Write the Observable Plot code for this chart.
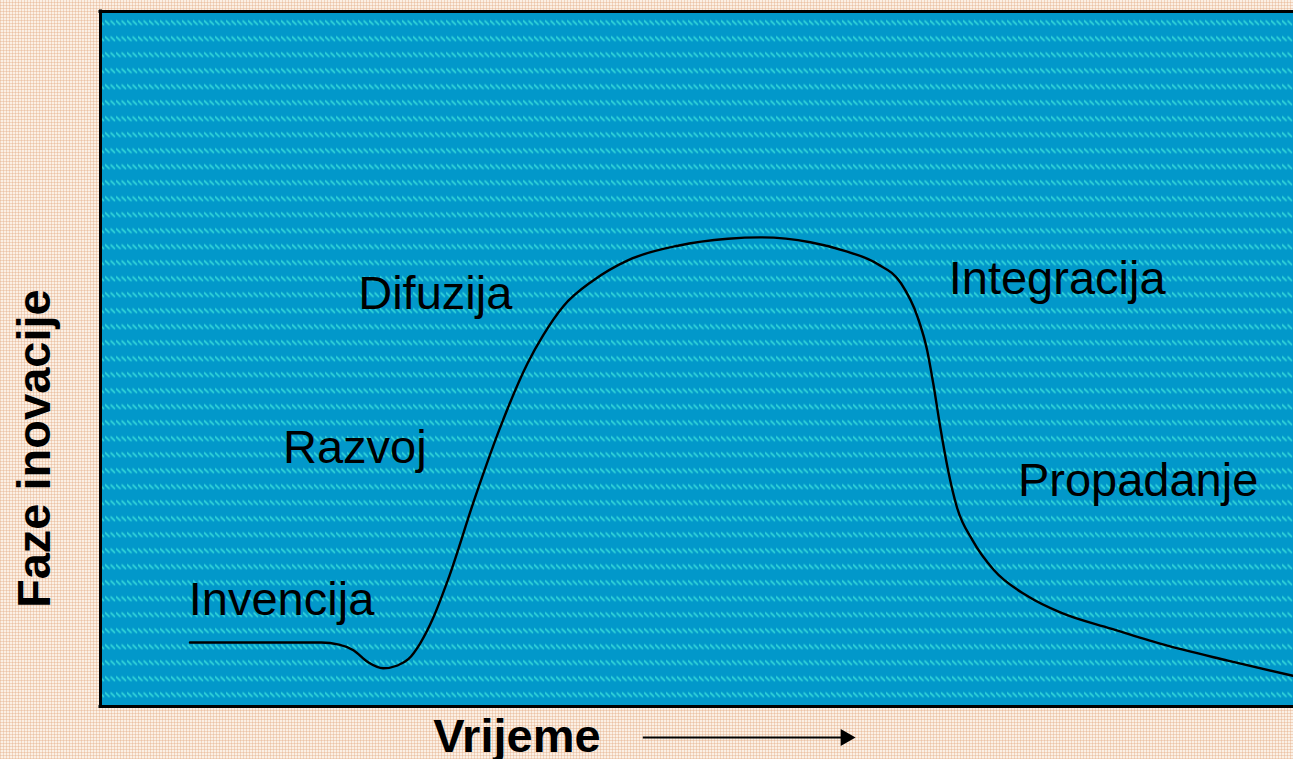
<!DOCTYPE html>
<html>
<head>
<meta charset="utf-8">
<script src="https://cdn.jsdelivr.net/npm/d3@7"></script>
<script src="https://cdn.jsdelivr.net/npm/@observablehq/plot@0.6"></script>
<style>
  html, body { margin: 0; padding: 0; }
  body {
    width: 1293px; height: 759px; overflow: hidden;
    background-color: #fbf0e5;
    background-image:
      repeating-linear-gradient(0deg, rgba(226,168,128,0.38) 0 1px, transparent 1px 3px),
      repeating-linear-gradient(90deg, rgba(226,168,128,0.38) 0 1px, transparent 1px 3px);
  }
</style>
</head>
<body>
<div id="chart"></div>
<script>
// Curve: innovation phase level over time (abstract units 0–100)
const curveTime  = [7.5, 13.5, 18.5, 20.0, 21.2, 22.4, 23.7, 24.9, 25.8, 26.8, 27.9, 29.1, 31.4, 33.4, 35.8, 37.1, 38.8, 41.3, 44.2, 48.4, 52.6, 55.3, 59.5, 62.3, 65.1, 67.1, 68.5, 69.3, 69.8, 70.4, 71.0, 71.8, 73.1, 74.9, 77.7, 80.5, 84.7, 88.9, 94.5, 100];
const curveLevel = [9.2, 9.2, 9.2, 8.9, 8.1, 6.4, 5.5, 5.9, 6.8, 9.1, 12.8, 18.1, 30.1, 39.7, 49.4, 53.4, 57.6, 61.3, 64.2, 66.3, 67.3, 67.5, 66.8, 65.6, 63.7, 60.9, 56.0, 51.2, 46.5, 40.1, 34.4, 28.6, 23.9, 19.6, 15.9, 13.5, 11.2, 9.0, 6.6, 4.4];

// Phase labels
const phaseNames = ["Invencija", "Razvoj", "Difuzija", "Integracija", "Propadanje"];
const phaseTime  = [7.4, 15.3, 21.6, 71.1, 76.9];
const phaseLevel = [13.1, 35.1, 57.2, 59.4, 30.3];

// Axis titles
const yTitle = "Faze inovacije";
const xTitle = "Vrijeme";

const curve = curveTime.map((t, i) => ({t, level: curveLevel[i]}));
const phases = phaseNames.map((name, i) => ({name, t: phaseTime[i], level: phaseLevel[i]}));

const FONT = "'Liberation Sans', Arial, Helvetica, sans-serif";

const plot = Plot.plot({
  width: 1293,
  height: 759,
  marginLeft: 100,
  marginRight: 0,
  marginTop: 11,
  marginBottom: 53,
  style: {background: "transparent", fontFamily: FONT, overflow: "visible"},
  x: {domain: [0, 100], axis: null},
  y: {domain: [0, 100], axis: null},
  marks: [
    Plot.frame({fill: "url(#tealHatch)", stroke: null}),
    Plot.line(curve, {x: "t", y: "level", curve: "monotone-x", stroke: "black", strokeWidth: 2.4}),
    Plot.text(phases, {x: "t", y: "level", text: "name", textAnchor: "start", lineAnchor: "bottom",
      fontSize: 47, fill: "black", fontFamily: FONT}),
    Plot.ruleX([0], {stroke: "black", strokeWidth: 3, strokeLinecap: "square"}),
    Plot.ruleY([0, 100], {stroke: "black", strokeWidth: 3, strokeLinecap: "square"}),
    Plot.text([yTitle], {frameAnchor: "left", y: [37.1], dx: -51, rotate: -90, textAnchor: "middle",
      lineAnchor: "bottom", fontSize: 47, fontWeight: "bold", fill: "black", fontFamily: FONT}),
    Plot.text([xTitle], {frameAnchor: "bottom", x: [27.9], dy: 45, textAnchor: "start",
      lineAnchor: "bottom", fontSize: 47, fontWeight: "bold", fill: "black", fontFamily: FONT}),
    Plot.ruleY([-4.46], {x1: 45.5, x2: 62.4, stroke: "black", strokeWidth: 2.2}),
    Plot.dot([{t: 62.46, level: -4.46}], {x: "t", y: "level", symbol: "triangle", rotate: 90, r: 6.4,
      fill: "black", stroke: null})
  ]
});

// pattern for the teal hatched panel: rows of small diagonal dashes
const defs = d3.select(plot).insert("defs", ":first-child");
const pat = defs.append("pattern")
  .attr("id", "tealHatch")
  .attr("patternUnits", "userSpaceOnUse")
  .attr("width", 5.5).attr("height", 16);
pat.append("rect").attr("width", 5.5).attr("height", 16).attr("fill", "#0298ca");
pat.append("path").attr("d", "M0.5,4.5 L4,8").attr("stroke", "#36dada")
  .attr("stroke-width", 1.7).attr("stroke-linecap", "round").attr("fill", "none");

document.getElementById("chart").appendChild(plot);
</script>
</body>
</html>
